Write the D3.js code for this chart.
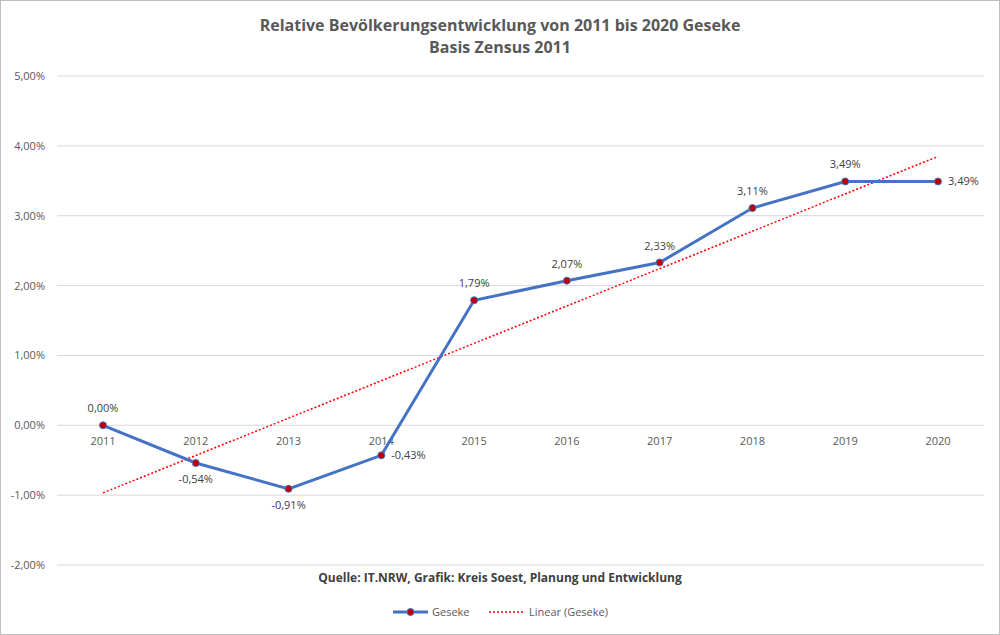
<!DOCTYPE html>
<html><head><meta charset="utf-8">
<script src="https://cdn.jsdelivr.net/npm/d3@7"></script>
<style>body{margin:0;background:#fff;font-family:"Open Sans",sans-serif}</style>
</head><body><svg id="c" width="1000" height="635"></svg>
<script>
const years=["2011","2012","2013","2014","2015","2016","2017","2018","2019","2020"];
const values=[0,-0.54,-0.91,-0.43,1.79,2.07,2.33,3.11,3.49,3.49];
const labelPos=["above","below","below","right","above","above","above","above","above","right"];
const yTicks=[-2,-1,0,1,2,3,4,5];
const fmt=v=>v.toFixed(2).replace(".",",")+"%";
const svg=d3.select("#c");
svg.append("rect").attr("x",0.5).attr("y",0.5).attr("width",999).attr("height",634).attr("fill","#fff").attr("stroke","#bfbfbf");
const x=d3.scalePoint().domain(years).range([103,938]);
const y=d3.scaleLinear().domain([-2,5]).range([565,76]);
const g=svg.append("g");
yTicks.forEach(t=>{
 g.append("line").attr("x1",57).attr("x2",984).attr("y1",y(t)).attr("y2",y(t)).attr("stroke","#d9d9d9");
 g.append("text").attr("x",45).attr("y",y(t)+4).attr("text-anchor","end").attr("font-size",11).attr("fill","#595959").text(fmt(t));
});
years.forEach(yr=>g.append("text").attr("x",x(yr)).attr("y",y(0)+20).attr("text-anchor","middle").attr("font-size",11).attr("fill","#595959").text(yr));
// linear trend
const n=values.length, xs=d3.range(n), mx=d3.mean(xs), my=d3.mean(values);
const b=d3.sum(xs,i=>(i-mx)*(values[i]-my))/d3.sum(xs,i=>(i-mx)**2), a=my-b*mx;
g.append("line").attr("x1",x(years[0])).attr("x2",x(years[n-1])).attr("y1",y(a)).attr("y2",y(a+b*(n-1)))
 .attr("stroke","#ff0000").attr("stroke-width",1.5).attr("stroke-dasharray","2,2");
const line=d3.line().x((d,i)=>x(years[i])).y(d=>y(d));
g.append("path").datum(values).attr("d",line).attr("fill","none").attr("stroke","#4472c4").attr("stroke-width",3);
values.forEach((v,i)=>{
 g.append("circle").attr("cx",x(years[i])).attr("cy",y(v)).attr("r",3.5).attr("fill","#c00000").attr("stroke","#4472c4").attr("stroke-width",1);
 let lx=x(years[i]),ly=y(v),anc="middle";
 if(labelPos[i]=="above")ly-=13;else if(labelPos[i]=="below")ly+=20;else{lx+=10;ly+=4;anc="start";}
 g.append("text").attr("x",lx).attr("y",ly).attr("text-anchor",anc).attr("font-size",11).attr("fill","#404040").text(fmt(v));
});
svg.append("text").attr("x",500).attr("y",31).attr("text-anchor","middle").attr("font-size",16).attr("font-weight","bold").attr("fill","#595959").text("Relative Bevölkerungsentwicklung von 2011 bis 2020 Geseke");
svg.append("text").attr("x",500).attr("y",53).attr("text-anchor","middle").attr("font-size",16).attr("font-weight","bold").attr("fill","#595959").text("Basis Zensus 2011");
svg.append("text").attr("x",500).attr("y",582).attr("text-anchor","middle").attr("font-size",12).attr("font-weight","bold").attr("fill","#404040").text("Quelle: IT.NRW, Grafik: Kreis Soest, Planung und Entwicklung");
const lg=svg.append("g");
lg.append("line").attr("x1",393).attr("x2",428).attr("y1",612).attr("y2",612).attr("stroke","#4472c4").attr("stroke-width",3);
lg.append("circle").attr("cx",410.5).attr("cy",612).attr("r",3.5).attr("fill","#c00000").attr("stroke","#4472c4");
lg.append("text").attr("x",432).attr("y",616).attr("font-size",11).attr("fill","#595959").text("Geseke");
lg.append("line").attr("x1",489).attr("x2",524).attr("y1",612).attr("y2",612).attr("stroke","#ff0000").attr("stroke-width",1.5).attr("stroke-dasharray","2,2");
lg.append("text").attr("x",529).attr("y",616).attr("font-size",11).attr("fill","#595959").text("Linear (Geseke)");
</script></body></html>
